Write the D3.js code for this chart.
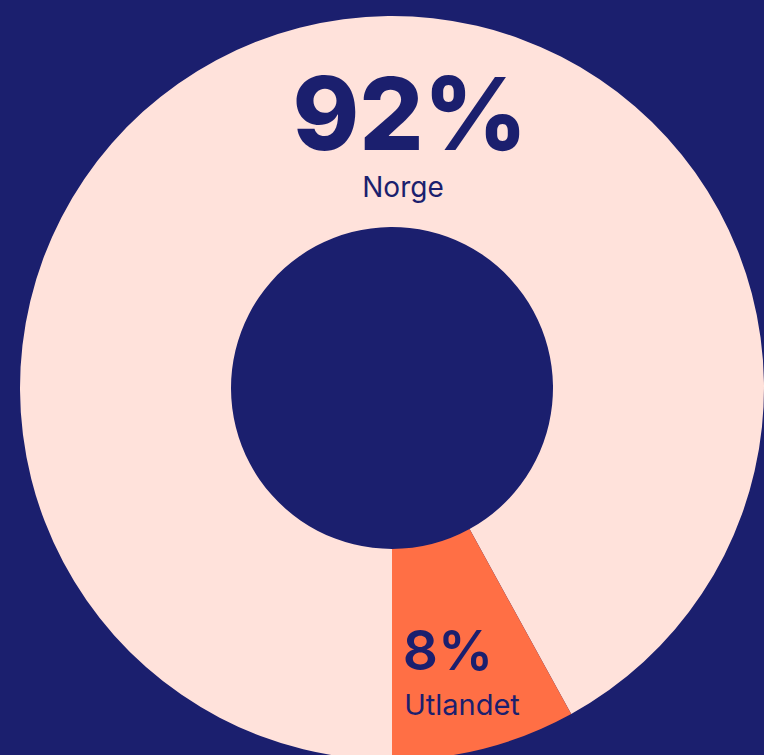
<!DOCTYPE html>
<html>
<head>
<meta charset="utf-8">
<script src="https://cdn.jsdelivr.net/npm/d3@7"></script>
<style>
  html, body { margin: 0; padding: 0; background: #1b1f6e; overflow: hidden; }
  text { font-family: Inter, "Noto Sans", sans-serif; fill: #1b1f6e; }
</style>
</head>
<body>
<div id="container"></div>
<script>
  // data
  const categories = ['Norge', 'Utlandet']
  const values = [92, 8]
  const colors = ['#ffe2db', '#ff6f45']

  // setup
  const width = 764
  const height = 755
  const cx = 392
  const cy = 388
  const outerR = 372
  const innerR = 161

  const svg = d3.select('#container')
    .append('svg')
    .attr('width', width)
    .attr('height', height)
    .style('background', '#1b1f6e')

  const chart = svg.append('g')
    .attr('transform', `translate(${cx}, ${cy})`)

  const pie = d3.pie()
    .sort(null)
    .startAngle(Math.PI)
    .endAngle(3 * Math.PI)

  const arc = d3.arc()
    .innerRadius(innerR)
    .outerRadius(outerR)

  const color = d3.scaleOrdinal()
    .domain(categories)
    .range(colors)

  chart.selectAll('path')
    .data(pie(values))
    .enter()
    .append('path')
    .attr('d', arc)
    .attr('fill', (d, i) => color(categories[i]))

  // labels
  const labels = [
    { pct: 410, name: 403, pctY: 150, nameY: 197, pctSize: 101, pctWeight: 800, nameSize: 28 },
    { pct: 448, name: 462, pctY: 670, nameY: 715, pctSize: 55, pctWeight: 600, nameSize: 29 }
  ]

  labels.forEach((l, i) => {
    svg.append('text')
      .attr('x', l.pct)
      .attr('y', l.pctY)
      .attr('text-anchor', 'middle')
      .style('font-size', l.pctSize + 'px')
      .style('font-weight', l.pctWeight)
      .text(values[i] + '%')

    svg.append('text')
      .attr('x', l.name)
      .attr('y', l.nameY)
      .attr('text-anchor', 'middle')
      .style('font-size', l.nameSize + 'px')
      .style('font-weight', 400)
      .text(categories[i])
  })
</script>
</body>
</html>
